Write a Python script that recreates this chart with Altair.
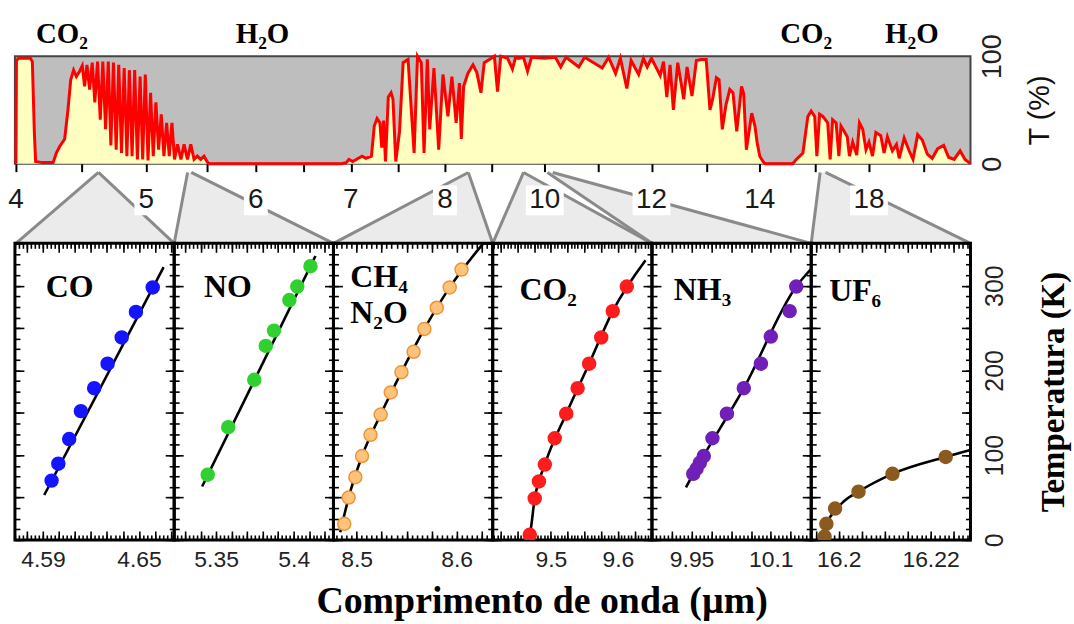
import altair as alt
import numpy as np
import pandas as pd

# ---------------- top: atmospheric transmission spectrum ----------------
LAMBDA = [
    4.000, 4.004, 4.020, 4.110, 4.125, 4.140, 4.150, 4.200, 4.283,
    4.308, 4.333, 4.371, 4.396, 4.417, 4.439, 4.460, 4.485, 4.505, 4.523,
    4.541, 4.562, 4.582, 4.602, 4.623, 4.644, 4.664, 4.685, 4.706, 4.726,
    4.746, 4.767, 4.787, 4.808, 4.829, 4.850, 4.869, 4.890, 4.910, 4.931,
    4.952, 4.972, 4.992, 5.014, 5.035, 5.057, 5.079, 5.101, 5.123, 5.145,
    5.167, 5.189, 5.211, 5.232, 5.257, 5.285, 5.311, 5.339, 5.366, 5.393,
    5.420, 5.448, 5.475, 5.500, 5.520,
    6.900, 6.950, 6.980, 7.020, 7.080, 7.120, 7.160, 7.220, 7.250, 7.280,
    7.310, 7.330, 7.350, 7.370, 7.400, 7.430, 7.450, 7.480,
    7.520, 7.558, 7.610, 7.674, 7.710, 7.750, 7.779, 7.814, 7.839, 7.884,
    7.934, 7.979, 8.064, 8.149, 8.240, 8.310, 8.350, 8.400, 8.490, 8.600,
    8.680, 8.770, 8.840, 8.950, 9.050, 9.110, 9.170, 9.300, 9.390, 9.450,
    9.500, 9.600, 9.675, 9.750, 10.000, 10.200, 10.300, 10.400, 10.640, 10.750,
    11.080, 11.200, 11.330, 11.420, 11.540, 11.620, 11.760, 11.850, 11.920, 12.000,
    12.160, 12.220, 12.280, 12.340, 12.400, 12.480, 12.590, 12.650, 12.740, 12.820,
    12.910, 13.000, 13.070, 13.120, 13.190, 13.240, 13.300, 13.370, 13.440, 13.500,
    13.570, 13.660, 13.700, 13.750, 13.850, 13.910, 13.950, 14.000, 14.120, 14.200,
    15.200, 15.330, 15.570, 15.750, 15.870, 16.000, 16.080, 16.180, 16.300, 16.480,
    16.570, 16.660, 16.790, 16.890, 16.970, 17.090, 17.200, 17.280, 17.400, 17.550,
    17.650, 17.770, 17.890, 18.000, 18.130, 18.250, 18.430, 18.550, 18.670, 18.850,
    19.000, 19.100, 19.280, 19.460, 19.600, 19.770, 19.940, 20.120, 20.300, 20.500,
    20.720, 20.900, 21.100, 21.320, 21.500, 21.700,
]
TRANS = [
    0, 96, 98, 98, 95, 30, 2, 1, 1,
    10, 16, 23, 50, 78, 87, 81, 86, 91, 72,
    92, 69, 94, 57, 95, 41, 95, 32, 95, 17,
    94, 13, 92, 10, 89, 7, 87, 7, 87, 4,
    81, 4, 83, 3, 66, 7, 57, 13, 46, 7,
    38, 7, 38, 4, 18, 4, 18, 4, 18, 4,
    7, 4, 7, 2, 0,
    0, 1, 4, 2, 5, 7, 5, 7, 35, 42,
    38, 15, 40, 2, 62, 66, 60, 2,
    30, 94, 97, 10, 100, 94, 10, 97, 32, 89,
    13, 83, 44, 81, 38, 75, 23, 72, 84, 92,
    85, 66, 94, 97, 100, 67, 100, 98, 88, 99,
    98, 99, 86, 99, 98, 99, 90, 99, 90, 99,
    89, 99, 84, 98, 70, 96, 83, 98, 90, 98,
    82, 95, 62, 92, 50, 94, 60, 90, 63, 96,
    97, 97, 50, 60, 80, 78, 32, 55, 69, 66,
    30, 72, 65, 13, 47, 35, 20, 7, 2, 0,
    0, 4, 10, 44, 49, 44, 7, 46, 44, 38,
    4, 41, 38, 7, 35, 30, 25, 7, 20, 8,
    38, 32, 13, 20, 7, 29, 26, 10, 25, 12,
    18, 5, 24, 12, 4, 27, 22, 9, 5, 14,
    17, 6, 4, 12, 4, 0,
]

BAND_TEXT = ["CO₂", "H₂O", "CO₂", "H₂O"]
BAND_LAMBDA = [4.35, 6.07, 15.69, 19.56]

# non-linear (piecewise) wavelength axis of the top panel
AX_DOMAIN = [4, 4.5, 5, 5.5, 6, 6.5, 7, 7.5, 8, 9, 10, 11, 12, 13, 14, 16, 18, 20, 21.7]
AX_RANGE = [1, 67, 132, 193, 242, 290, 337.5, 384.5, 432, 479, 532.3, 585.7, 639.5,
            694.5, 748.3, 803.5, 858, 913.3, 960]
TICK_VALUES = [4, 4.5, 5, 5.5, 6, 6.5, 7, 7.5, 8, 9, 10, 11, 12, 13, 14, 16, 18, 20]
TICK_LABELS = [4, 5, 6, 7, 8, 10, 12, 14, 18]

# where each zoom panel comes from on the top axis
APEX_LEFT = [4.63, 5.34, 8.5, 9.6, 10.05, 16.2]
APEX_RIGHT = [4.63, 5.37, 8.5, 9.6, 10.15, 16.4]

# ---------------- bottom: temperature vs wavelength panels ----------------
PANEL_NAMES = ["CO", "NO", "CH₄\nN₂O", "CO₂", "NH₃", "UF₆"]

CO_X = [4.5954, 4.5996, 4.6064, 4.6137, 4.6220, 4.6304, 4.6392, 4.6481, 4.6586]
CO_T = [70, 90, 119, 152, 179, 208, 239, 269, 298]
CO_FIT_X = [4.5908, 4.6654]
CO_FIT_T = [53, 322]

NO_X = [5.3446, 5.3578, 5.3746, 5.3820, 5.3873, 5.3972, 5.4023, 5.4108]
NO_T = [77, 133, 189, 229, 247, 283, 299, 323]
NO_FIT_X = [5.3410, 5.4140]
NO_FIT_T = [63, 335]

CH4_X = [8.4876, 8.4920, 8.4987, 8.5054, 8.5139, 8.5240, 8.5341, 8.5448, 8.5569,
         8.5677, 8.5801, 8.5930, 8.6048]
CH4_T = [19, 50, 74, 99, 124, 148, 174, 198, 222, 249, 274, 298, 319]
CH4_FIT_X = [8.4836, 8.4920, 8.5054, 8.5240, 8.5448, 8.5677, 8.5930, 8.6266]
CH4_FIT_T = [9, 50, 99, 148, 198, 249, 298, 350]

CO2_X = [9.4684, 9.4758, 9.4821, 9.4909, 9.5057, 9.5229, 9.5399, 9.5571, 9.5752,
         9.5924, 9.6134]
CO2_T = [6, 49, 69, 89, 120, 149, 179, 208, 239, 270, 299]
CO2_FIT_X = [9.4649, 9.4684, 9.4758, 9.4909, 9.5229, 9.5571, 9.5924, 9.6414]
CO2_FIT_T = [0, 6, 49, 89, 149, 208, 270, 330]

NH3_X = [9.9521, 9.9563, 9.9604, 9.9654, 9.9763, 9.9946, 10.0159, 10.0375, 10.0500,
         10.0738, 10.0821]
NH3_T = [78, 84, 91, 99, 120, 149, 179, 208, 240, 270, 299]
NH3_FIT_X = [9.9429, 9.9521, 10.0159, 10.0821, 10.1010]
NH3_FIT_T = [62, 78, 179, 299, 320]

UF6_X = [16.1969, 16.1973, 16.1992, 16.2043, 16.2117, 16.2233]
UF6_T = [4, 19, 37, 57, 78, 98]
UF6_FIT_X = [16.1963, 16.1967, 16.1973, 16.1985, 16.2010, 16.2043, 16.2117, 16.2233, 16.2287]
UF6_FIT_T = [0, 8, 19, 30, 45, 57, 78, 98, 106]

PANEL_DOMAINS = [[4.5725, 4.672], [5.323, 5.4256], [8.4768, 8.636],
                 [9.413, 9.651], [9.90, 10.101], [16.194, 16.2287]]
PANEL_LABELS = [[4.59, 4.65], [5.35, 5.4], [8.5, 8.6], [9.5, 9.6], [9.95, 10.05], [16.2, 16.22]]

# ---------------- styling ----------------
SANS = "Liberation Sans"
SERIF = "Liberation Serif"
PANEL_W, PANEL_H = 160, 298
FILL_COLORS = ["#1414ff", "#30d030", "#ffc37c", "#ff1c1c", "#7020b8", "#8b5a1e"]
STROKE_COLORS = ["#1414ff", "#30d030", "#ef9433", "#ff1c1c", "#7020b8", "#8b5a1e"]
MINOR_STEP = [0.0025, 0.0025, 0.005, 0.005, 0.005, 0.001]
MAJOR_STEP = [0.01, 0.01, 0.025, 0.025, 0.025, 0.005]
NAME_POS = [(31, 54), (30, 54), (17, 44), (27, 57), (22, 57), (18, 58)]


def tick_values(d0, d1, step):
    start = np.ceil(d0 / step - 1e-9) * step
    return [round(float(v), 6) for v in np.arange(start, d1 + 1e-12, step)]


def tick_axis(orient, values, size):
    return alt.Axis(orient=orient, values=values, tickCount=len(values) + 10,
                    labels=False, domain=False, grid=False,
                    ticks=True, tickSize={"expr": str(-size)}, tickWidth=1.6,
                    tickColor="black", title=None)


# ---------- top chart ----------
spec_df = pd.DataFrame({"lam": LAMBDA, "T": TRANS})
x_top = alt.Scale(domain=AX_DOMAIN, range=AX_RANGE, nice=False, zero=False)
y_top = alt.Scale(domain=[0, 100], nice=False, zero=False)

area = alt.Chart(spec_df).mark_area(color="#ffffc2", opacity=1).encode(
    x=alt.X("lam:Q", scale=x_top,
            axis=alt.Axis(orient="bottom", values=TICK_VALUES, tickCount=40, labels=False,
                          domain=False, grid=False, tickSize=8, tickWidth=2,
                          tickColor="black", title=None)),
    y=alt.Y("T:Q", scale=y_top,
            axis=alt.Axis(orient="right", values=[0, 100], ticks=False, domain=False, grid=False,
                          labelAngle=270, labelAlign="center", labelBaseline="top",
                          labelPadding=9, labelFont=SANS, labelFontSize=27, labelColor="#222",
                          title="T (%)", titleFont=SANS, titleFontSize=29,
                          titleFontWeight="normal", titleAngle=270, titleBaseline="top",
                          titlePadding=20, titleColor="#111")),
)
spec_line = alt.Chart(spec_df).mark_line(color="#ff0000", strokeWidth=3).encode(
    x="lam:Q", y="T:Q")
bands = alt.Chart(pd.DataFrame({"lam": BAND_LAMBDA, "txt": BAND_TEXT})).mark_text(
    font=SERIF, fontSize=29, fontWeight="bold", baseline="alphabetic", align="center",
    color="black").encode(x="lam:Q", y=alt.value(-13), text="txt:N")

top = alt.layer(area, spec_line, bands).properties(
    width=960, height=108,
    view=alt.ViewBackground(fill="#bebebe", stroke="#454545", strokeWidth=2))

# ---------- connector band ----------
def inv(px):
    return float(np.interp(px, AX_RANGE, AX_DOMAIN))

APEX_Y = 0.89
trap_rows, seg_rows = [], []
for i in range(6):
    cl, cr = inv(PANEL_W * i), inv(PANEL_W * (i + 1))
    trap_rows.append({"p": i, "y": APEX_Y, "xl": APEX_LEFT[i], "xr": APEX_RIGHT[i]})
    trap_rows.append({"p": i, "y": 0.0, "xl": cl, "xr": cr})
    seg_rows.append({"x1": APEX_LEFT[i], "y1": APEX_Y, "x2": cl, "y2": 0.0})
    seg_rows.append({"x1": APEX_RIGHT[i], "y1": APEX_Y, "x2": cr, "y2": 0.0})
trap = pd.DataFrame(trap_rows)
seg = pd.DataFrame(seg_rows)
labs = pd.DataFrame({"v": TICK_LABELS, "t": [str(v) for v in TICK_LABELS]})

x_c = alt.Scale(domain=AX_DOMAIN, range=AX_RANGE, nice=False, zero=False)
y_c = alt.Scale(domain=[0, 1], nice=False, zero=False)
LAB_Y = 0.54

c_fill = alt.Chart(trap).mark_area(orient="horizontal", color="#ebebeb", opacity=1).encode(
    y=alt.Y("y:Q", scale=y_c, axis=None),
    x=alt.X("xl:Q", scale=x_c, axis=None), x2="xr:Q", detail="p:N")
c_rules = alt.Chart(seg).mark_rule(color="#8a8a8a", strokeWidth=3).encode(
    x=alt.X("x1:Q", scale=x_c, axis=None), x2="x2:Q",
    y=alt.Y("y1:Q", scale=y_c, axis=None), y2="y2:Q")
c_box1 = alt.Chart(labs).transform_filter("datum.v < 10").mark_rect(
    color="white", width=24, height=30).encode(
    x=alt.X("v:Q", scale=x_c, axis=None), y=alt.Y(datum=LAB_Y, scale=y_c, axis=None))
c_box2 = alt.Chart(labs).transform_filter("datum.v >= 10").mark_rect(
    color="white", width=38, height=30).encode(
    x=alt.X("v:Q", scale=x_c, axis=None), y=alt.Y(datum=LAB_Y, scale=y_c, axis=None))
c_text = alt.Chart(labs).mark_text(font=SANS, fontSize=28, color="#1a1a1a",
                                   baseline="middle", align="center").encode(
    x=alt.X("v:Q", scale=x_c, axis=None), y=alt.Y(datum=LAB_Y, scale=y_c, axis=None),
    text="t:N")

conn = alt.layer(c_fill, c_rules, c_box1, c_box2, c_text).properties(
    width=960, height=80,
    view=alt.ViewBackground(stroke="transparent", strokeWidth=0))

# ---------- panels ----------
series = [
    (CO_X, CO_T, CO_FIT_X, CO_FIT_T),
    (NO_X, NO_T, NO_FIT_X, NO_FIT_T),
    (CH4_X, CH4_T, CH4_FIT_X, CH4_FIT_T),
    (CO2_X, CO2_T, CO2_FIT_X, CO2_FIT_T),
    (NH3_X, NH3_T, NH3_FIT_X, NH3_FIT_T),
    (UF6_X, UF6_T, UF6_FIT_X, UF6_FIT_T),
]

y_major = tick_values(0, 350, 50)
y_minor = tick_values(0, 350, 12.5)

panels = []
for i, (px, pt, fx, ft) in enumerate(series):
    d0, d1 = PANEL_DOMAINS[i]
    xs = alt.Scale(domain=[d0, d1], nice=False, zero=False)
    ys = alt.Scale(domain=[0, 350], nice=False, zero=False)
    fit = pd.DataFrame({"x": fx, "T": ft})
    pts = pd.DataFrame({"x": px, "T": pt})
    xmaj = tick_values(d0, d1, MAJOR_STEP[i])
    xmin = tick_values(d0, d1, MINOR_STEP[i])

    label_axis = alt.Axis(orient="bottom", values=PANEL_LABELS[i], ticks=False, domain=False,
                          grid=False, format="~g", labelFont=SANS, labelFontSize=23,
                          labelColor="#222", labelPadding=9, labelFlush=False,
                          labelOverlap=False, title=None)
    if i == 5:
        y_last = alt.Axis(orient="right", values=[0, 100, 200, 300], ticks=False, domain=False,
                          grid=False, labelAngle=270, labelAlign="center", labelBaseline="top",
                          labelPadding=12, labelFont=SANS, labelFontSize=25, labelColor="#222",
                          title="Temperatura (K)", titleFont=SERIF, titleFontSize=33,
                          titleFontWeight="bold", titleAngle=270, titleBaseline="top",
                          titlePadding=30, titleColor="black")
    else:
        y_last = None

    l_line = alt.Chart(fit).mark_line(color="black", strokeWidth=2.6, clip=True,
                                      interpolate="monotone").encode(
        x=alt.X("x:Q", scale=xs, axis=label_axis),
        y=alt.Y("T:Q", scale=ys, axis=tick_axis("left", y_major, 9)))
    l_pts = alt.Chart(pts).mark_point(shape="circle", filled=True, size=170, opacity=1,
                                      fill=FILL_COLORS[i], stroke=STROKE_COLORS[i],
                                      strokeWidth=1.5, clip=True).encode(
        x=alt.X("x:Q", scale=xs, axis=tick_axis("bottom", xmaj, 9)),
        y=alt.Y("T:Q", scale=ys, axis=tick_axis("left", y_minor, 5)))
    l_d1 = alt.Chart(fit).mark_point(opacity=0).encode(
        x=alt.X("x:Q", scale=xs, axis=tick_axis("bottom", xmin, 5)),
        y=alt.Y("T:Q", scale=ys, axis=tick_axis("right", y_major, 9)))
    l_d2 = alt.Chart(fit).mark_point(opacity=0).encode(
        x=alt.X("x:Q", scale=xs, axis=tick_axis("top", xmaj, 9)),
        y=alt.Y("T:Q", scale=ys, axis=tick_axis("right", y_minor, 5)))
    if y_last is not None:
        yenc = alt.Y("T:Q", scale=ys, axis=y_last)
    else:
        yenc = alt.Y("T:Q", scale=ys, axis=None)
    l_d3 = alt.Chart(fit).mark_point(opacity=0).encode(
        x=alt.X("x:Q", scale=xs, axis=tick_axis("top", xmin, 5)), y=yenc)
    nx, ny = NAME_POS[i]
    l_name = alt.Chart(pd.DataFrame({"name": [PANEL_NAMES[i]]})).mark_text(
        font=SERIF, fontSize=32, fontWeight="bold", align="left", baseline="alphabetic",
        lineBreak="\n", lineHeight=36, color="black").encode(
        x=alt.value(nx), y=alt.value(ny), text="name:N")

    p = alt.layer(l_line, l_pts, l_d1, l_d2, l_d3, l_name).resolve_axis(
        x="independent", y="independent").properties(width=PANEL_W, height=PANEL_H)
    panels.append(p)

bottom = alt.hconcat(*panels, spacing=0, bounds="flush").properties(
    title=alt.TitleParams("Comprimento de onda (µm)", orient="bottom", anchor="middle",
                          font=SERIF, fontSize=38, fontWeight="bold", color="black",
                          offset=10))

chart = alt.vconcat(top, conn, bottom, spacing=0, bounds="flush").configure(
    padding={"left": 4, "top": 18, "right": 2, "bottom": 2}, background="white"
).configure_view(stroke="black", strokeWidth=3)

chart.save("out.html", embed_options={"renderer": "svg", "actions": False})
